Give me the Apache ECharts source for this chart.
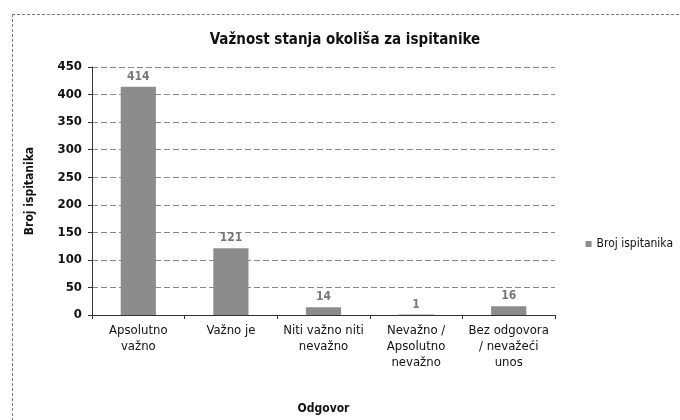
<!DOCTYPE html>
<html>
<head>
<meta charset="utf-8">
<script src="https://cdn.jsdelivr.net/npm/echarts@6/dist/echarts.min.js"></script>
<style>
  html, body { margin: 0; padding: 0; background: #fff; }
  #chart { width: 680px; height: 420px; }
  .frame { position: absolute; left: 12px; top: 14px; width: 690px; height: 420px; border: 1px dashed #777; }
</style>
</head>
<body>
<div class="frame"></div>
<div id="chart" style="position:absolute;left:0;top:0"></div>
<script>
const categories = ['Apsolutno\nvažno', 'Važno je', 'Niti važno niti\nnevažno', 'Nevažno /\nApsolutno\nnevažno', 'Bez odgovora\n/ nevažeći\nunos'];
const counts = [414, 121, 14, 1, 16];
const seriesName = 'Broj ispitanika';

const myChart = echarts.init(document.getElementById('chart'));
const font = '"DejaVu Sans Condensed", "DejaVu Sans", sans-serif';

let option = {
  textStyle: { fontFamily: font },
  title: {
    text: 'Važnost stanja okoliša za ispitanike',
    left: 340,
    textAlign: 'center',
    top: 28,
    textStyle: { fontFamily: font, fontSize: 15, fontWeight: 'bold', color: '#111' },
  },
  legend: {
    right: 2,
    top: 233,
    orient: 'vertical',
    icon: 'rect',
    itemWidth: 6,
    itemHeight: 6,
    itemGap: 4,
    textStyle: { fontFamily: font, fontSize: 12, color: '#111' },
    data: [seriesName],
  },
  grid: { left: 92, top: 67, width: 463, height: 251, containLabel: false },
  xAxis: {
    type: 'category',
    data: categories,
    name: 'Odgovor',
    nameLocation: 'middle',
    nameGap: 88,
    nameTextStyle: { fontFamily: font, fontSize: 12, fontWeight: 'bold', color: '#111' },
    axisLine: { lineStyle: { color: '#333' } },
    axisTick: { show: true, length: 4, lineStyle: { color: '#333' } },
    axisLabel: { fontFamily: font, fontSize: 13, color: '#111', lineHeight: 16, margin: 8, interval: 0 },
  },
  yAxis: {
    type: 'value',
    min: 0,
    max: 450,
    interval: 50,
    name: 'Broj ispitanika',
    nameLocation: 'middle',
    nameGap: 56,
    nameTextStyle: { fontFamily: font, fontSize: 12, fontWeight: 'bold', color: '#111' },
    axisLine: { show: true, lineStyle: { color: '#333' } },
    axisTick: { show: true, length: 4, lineStyle: { color: '#333' } },
    axisLabel: { fontFamily: font, fontSize: 13, fontWeight: 'bold', color: '#111', margin: 10 },
    splitLine: { lineStyle: { color: '#888', type: [6, 3] } },
  },
  series: [
    {
      name: seriesName,
      type: 'bar',
      data: counts,
      barWidth: '38%',
      itemStyle: { color: '#8c8c8c' },
      label: {
        show: true,
        position: 'top',
        distance: 4,
        fontFamily: font,
        fontSize: 12,
        fontWeight: 'bold',
        color: '#777',
      },
    },
  ],
};
myChart.setOption(option);
</script>
</body>
</html>
